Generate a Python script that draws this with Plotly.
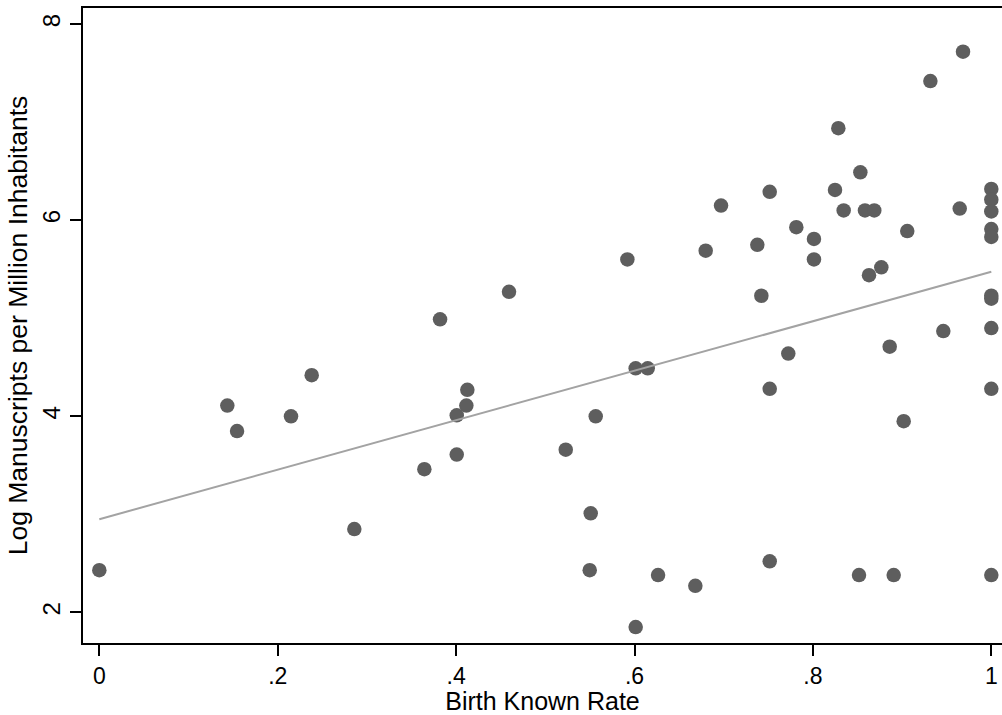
import plotly.graph_objects as go

# Birth known rate (x) and log manuscripts per million inhabitants (y)
birth_known_rate = [
    0.0, 0.1435, 0.1544, 0.2149, 0.2381, 0.2859, 0.3644, 0.382, 0.4007, 0.4007,
    0.4115, 0.4126, 0.4593, 0.5229, 0.5565, 0.5509, 0.5498, 0.592, 0.6013, 0.6148,
    0.6013, 0.6264, 0.6682, 0.6798, 0.697, 0.7377, 0.7422, 0.7516, 0.7516, 0.7516,
    0.7724, 0.7814, 0.8012, 0.8012, 0.8248, 0.8285, 0.8345, 0.8517, 0.8532, 0.8584,
    0.8629, 0.8688, 0.8767, 0.8861, 0.8906, 0.9018, 0.9058, 0.9317, 0.9462, 0.9646,
    0.9683, 1.0, 1.0, 1.0, 1.0, 1.0, 1.0, 1.0, 1.0, 1.0, 1.0,
]
log_manuscripts = [
    2.43, 4.11, 3.85, 4.00, 4.42, 2.85, 3.46, 4.99, 3.61, 4.01,
    4.11, 4.27, 5.27, 3.66, 4.00, 3.01, 2.43, 5.60, 4.49, 4.49,
    1.85, 2.38, 2.27, 5.69, 6.15, 5.75, 5.23, 6.29, 4.28, 2.52,
    4.64, 5.93, 5.81, 5.60, 6.31, 6.94, 6.10, 2.38, 6.49, 6.10,
    5.44, 6.10, 5.52, 4.71, 2.38, 3.95, 5.89, 7.42, 4.87, 6.12,
    7.72, 6.32, 6.21, 6.09, 5.91, 5.83, 5.23, 5.20, 4.90, 4.28, 2.38,
]

# Linear fit line
fit_x = [0.0, 1.0]
fit_y = [2.95, 5.475]

x_tickvals = [0, 0.2, 0.4, 0.6, 0.8, 1.0]
x_ticktext = ["0", ".2", ".4", ".6", ".8", "1"]
y_tickvals = [2, 4, 6, 8]
y_ticktext = ["2", "4", "6", "8"]

FONT = "Liberation Sans, Arial, Helvetica, sans-serif"

fig = go.Figure()
fig.add_trace(go.Scatter(
    x=birth_known_rate, y=log_manuscripts, mode="markers",
    marker=dict(size=14.5, color="#5e5e5e", line=dict(width=0)),
    showlegend=False,
))
fig.add_trace(go.Scatter(
    x=fit_x, y=fit_y, mode="lines",
    line=dict(color="#a3a3a3", width=2),
    showlegend=False,
))

fig.update_layout(
    width=1002, height=715,
    margin=dict(l=83, r=0, t=8, b=72),
    paper_bgcolor="white", plot_bgcolor="white",
    font=dict(family=FONT, color="black", size=23),
    xaxis=dict(
        range=[-0.0183, 1.012], tickvals=x_tickvals, ticktext=x_ticktext,
        ticks="outside", ticklen=11, tickwidth=1.5, tickcolor="black",
        showline=True, linewidth=2, linecolor="black", mirror=True,
        showgrid=False, zeroline=False,
        tickfont=dict(size=23),
        title=dict(text="Birth Known Rate", font=dict(size=25), standoff=0),
    ),
    yaxis=dict(
        range=[1.687, 8.166], tickvals=y_tickvals, ticktext=y_ticktext,
        ticks="outside", ticklen=11, tickwidth=1.5, tickcolor="black",
        showline=True, linewidth=2, linecolor="black", mirror=False,
        showgrid=False, zeroline=False, tickangle=-90,
        tickfont=dict(size=24),
        title=dict(text="Log Manuscripts per Million Inhabitants", font=dict(size=26.5), standoff=3),
    ),
)

fig.write_html("out.html")
